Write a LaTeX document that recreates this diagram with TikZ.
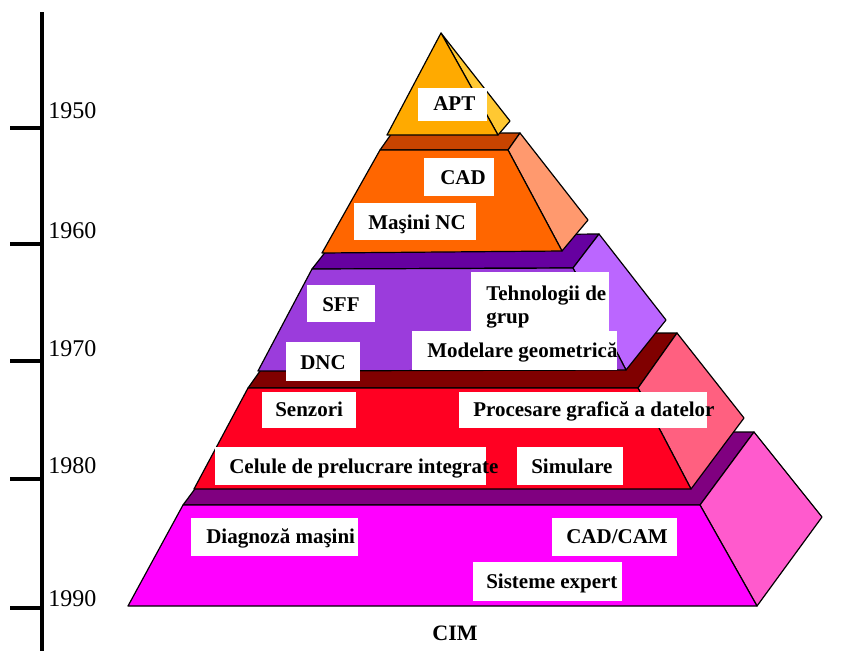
\documentclass[tikz,border=0pt]{standalone}
\usepackage{fontspec}
\setmainfont{Liberation Serif}
\begin{document}
\begin{tikzpicture}[x=0.75pt,y=-0.75pt,
  face/.style={draw=black, line width=0.9pt, line join=round},
  lbox/.style={fill=white, inner sep=0pt, outer sep=0pt, anchor=north west},
  lbl/.style={font=\fontsize{15.75}{18}\selectfont\bfseries, inner sep=0pt, anchor=base west},
  yearlbl/.style={font=\fontsize{18}{20}\selectfont, inner sep=0pt, anchor=base west},
  axisline/.style={line width=3pt},
  ticklbl/.style={line width=2.6pt}]
\definecolor{aptF}{RGB}{255,170,0}
\definecolor{aptS}{RGB}{255,200,50}
\definecolor{cadF}{RGB}{255,102,0}
\definecolor{cadT}{RGB}{200,68,0}
\definecolor{cadS}{RGB}{255,153,110}
\definecolor{purF}{RGB}{155,60,220}
\definecolor{purT}{RGB}{102,0,160}
\definecolor{purS}{RGB}{187,102,255}
\definecolor{redF}{RGB}{255,0,34}
\definecolor{redT}{RGB}{128,0,0}
\definecolor{redS}{RGB}{255,96,128}
\definecolor{magF}{RGB}{255,0,255}
\definecolor{magT}{RGB}{128,0,128}
\definecolor{magS}{RGB}{255,90,205}
\useasboundingbox (0,0) rectangle (841,651);

% time axis
\coordinate (axtop) at (42,12);
\coordinate (axbot) at (42,651);
\draw[axisline] (axtop) -- (axbot);
\foreach \yy/\ly/\yr in {128/118/1950, 244/238/1960, 361/356/1970, 479/473/1980, 608/606/1990}{
  \coordinate (t\yr a) at (10,\yy);
  \coordinate (t\yr b) at (41,\yy);
  \draw[ticklbl] (t\yr a) -- (t\yr b);
  \node[yearlbl] (y\yr) at (48,\ly) {\yr};
}

% level 5 (bottom)
\draw[face, fill=magT] (183,505) -- (700,505) -- (754,432) -- (237,432) -- cycle;
\draw[face, fill=magS] (757,606) -- (700,505) -- (754,432) -- (822,517) -- cycle;
\draw[face, fill=magF] (128,606) -- (757,606) -- (700,505) -- (183,505) -- cycle;

% level 4
\draw[face, fill=redT] (248,388) -- (638,388) -- (677,333) -- (287,333) -- cycle;
\draw[face, fill=redS] (691,489) -- (638,388) -- (677,333) -- (744,418) -- cycle;
\draw[face, fill=redF] (194,489) -- (691,489) -- (638,388) -- (248,388) -- cycle;

% level 3
\draw[face, fill=purT] (312,269) -- (573,268) -- (599,234) -- (338,236) -- cycle;
\draw[face, fill=purS] (626,370) -- (573,268) -- (599,234) -- (666,320) -- cycle;
\draw[face, fill=purF] (258,371) -- (626,370) -- (573,268) -- (312,269) -- cycle;

% level 2
\draw[face, fill=cadT] (380,150) -- (508,150) -- (520,133) -- (392,133) -- cycle;
\draw[face, fill=cadS] (562,251) -- (508,150) -- (520,133) -- (588,220) -- cycle;
\draw[face, fill=cadF] (322,253) -- (562,251) -- (508,150) -- (380,150) -- cycle;

% level 1 (apex)
\draw[face, fill=aptS] (441,33) -- (498,135) -- (510,121) -- cycle;
\draw[face, fill=aptF] (441,33) -- (387,135) -- (498,135) -- cycle;

% label boxes
\node[lbox, minimum width=69*0.75pt, minimum height=33*0.75pt] (bapt) at (418,88) {};
\node[lbox, minimum width=70*0.75pt, minimum height=38*0.75pt] (bcad) at (424,158) {};
\node[lbox, minimum width=122*0.75pt, minimum height=37*0.75pt] (bnc) at (354,203) {};
\node[lbox, minimum width=68*0.75pt, minimum height=37*0.75pt] (bsff) at (307,285) {};
\node[lbox, minimum width=138*0.75pt, minimum height=59*0.75pt] (btg) at (471,272) {};
\node[lbox, minimum width=205*0.75pt, minimum height=39*0.75pt] (bmg) at (412,331) {};
\node[lbox, minimum width=74*0.75pt, minimum height=39*0.75pt] (bdnc) at (286,342) {};
\node[lbox, minimum width=94*0.75pt, minimum height=36*0.75pt] (bsen) at (262,392) {};
\node[lbox, minimum width=248*0.75pt, minimum height=36*0.75pt] (bpg) at (459,392) {};
\node[lbox, minimum width=271*0.75pt, minimum height=38*0.75pt] (bcel) at (215,447) {};
\node[lbox, minimum width=106*0.75pt, minimum height=38*0.75pt] (bsim) at (517,447) {};
\node[lbox, minimum width=167*0.75pt, minimum height=38*0.75pt] (bdia) at (191,518) {};
\node[lbox, minimum width=125*0.75pt, minimum height=38*0.75pt] (bcc) at (552,518) {};
\node[lbox, minimum width=149*0.75pt, minimum height=39*0.75pt] (bse) at (473,562) {};

% labels
\node[lbl] (apt) at (433,110) {APT};
\node[lbl] (cad) at (440,184) {CAD};
\node[lbl] (nc) at (368,229) {Maşini NC};
\node[lbl] (sff) at (322,311) {SFF};
\node[lbl] (tg1) at (486,300) {Tehnologii de};
\node[lbl] (tg2) at (486,323) {grup};
\node[lbl] (mg) at (427,357) {Modelare geometrică};
\node[lbl] (dnc) at (300,369) {DNC};
\node[lbl] (sen) at (275,416) {Senzori};
\node[lbl] (pg) at (473,416) {Procesare grafică a datelor};
\node[lbl] (cel) at (229,473) {Celule de prelucrare integrate};
\node[lbl] (sim) at (531,473) {Simulare};
\node[lbl] (dia) at (206,543) {Diagnoză maşini};
\node[lbl] (cc) at (566,543) {CAD/CAM};
\node[lbl] (se) at (486,588) {Sisteme expert};

\node[font=\fontsize{16.5}{18}\selectfont\bfseries, inner sep=0pt, anchor=base] (cim) at (455,640) {CIM};
\end{tikzpicture}
\end{document}
